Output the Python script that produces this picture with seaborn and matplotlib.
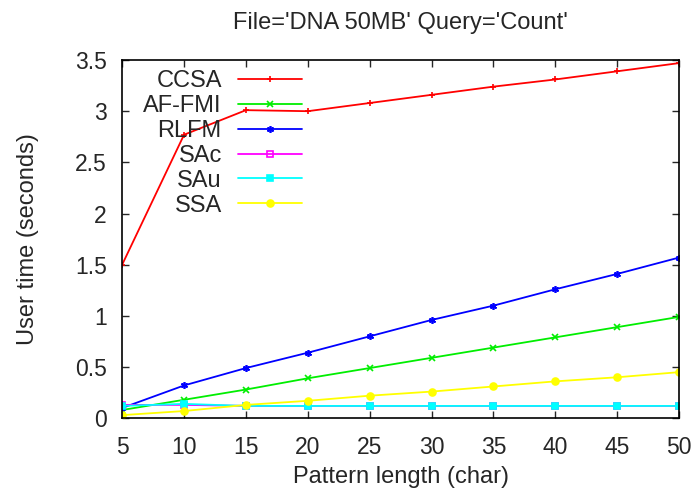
import seaborn as sns
import matplotlib
matplotlib.use("Agg")
import matplotlib.pyplot as plt

# pattern lengths and user times (seconds)
pattern_length = [5, 10, 15, 20, 25, 30, 35, 40, 45, 50]
ccsa = [1.50, 2.77, 3.01, 3.00, 3.08, 3.16, 3.24, 3.31, 3.39, 3.47]
af_fmi = [0.08, 0.18, 0.28, 0.39, 0.49, 0.59, 0.69, 0.79, 0.89, 0.99]
rlfm = [0.10, 0.32, 0.49, 0.64, 0.80, 0.96, 1.10, 1.26, 1.41, 1.57]
sac = [0.13, 0.13, 0.12, 0.12, 0.12, 0.12, 0.12, 0.12, 0.12, 0.12]
sau = [0.12, 0.14, 0.12, 0.12, 0.12, 0.12, 0.12, 0.12, 0.12, 0.12]
ssa = [0.03, 0.07, 0.13, 0.17, 0.22, 0.26, 0.31, 0.36, 0.40, 0.45]

series_names = ["CCSA", "AF-FMI", "RLFM", "SAc", "SAu", "SSA"]
series_values = [ccsa, af_fmi, rlfm, sac, sau, ssa]
colors = ["#ff0000", "#00ee00", "#0000ff", "#ff00ff", "#00ffff", "#ffff00"]
marker_styles = ["+", "x", (6, 2, 0), "s", "s", "o"]
open_marker = [False, False, False, True, False, False]

FS = 17


def main():
    sns.set_style("ticks")
    plt.rcParams["font.family"] = ["Liberation Sans", "DejaVu Sans"]

    fig = plt.figure(figsize=(6.98, 4.92), dpi=100)
    ax = fig.add_axes([0.175, 0.150, 0.798, 0.728])

    # one lineplot per series, since seaborn won't mix filled and line markers
    for name, vals, col, mk, hollow in zip(series_names, series_values, colors,
                                            marker_styles, open_marker):
        sns.lineplot(x=pattern_length, y=vals, color=col, marker=mk, label=name,
                     linewidth=1.3, markersize=5, markeredgewidth=1.2,
                     markeredgecolor=col, markerfacecolor="none" if hollow else col,
                     ax=ax)

    ax.set_xlim(5, 50)
    ax.set_ylim(0, 3.5)
    ax.set_xticks(pattern_length)
    ax.set_yticks([0, 0.5, 1, 1.5, 2, 2.5, 3, 3.5])
    ax.set_yticklabels(["0", "0.5", "1", "1.5", "2", "2.5", "3", "3.5"])
    ax.tick_params(direction="in", top=True, right=True, length=5, width=1,
                   labelsize=16.5)
    ax.tick_params(axis="x", pad=13)
    ax.tick_params(axis="y", pad=11)
    for spine in ax.spines.values():
        spine.set_visible(True)
        spine.set_linewidth(1.2)
        spine.set_color("black")

    ax.set_xlabel("Pattern length (char)", fontsize=FS, labelpad=5)
    ax.set_ylabel("User time (seconds)", fontsize=FS, labelpad=26)
    ax.set_title("File='DNA 50MB' Query='Count'", fontsize=FS, pad=22)

    leg = ax.legend(loc="upper right", bbox_to_anchor=(0.323, 0.971),
                    frameon=False, markerfirst=False, fontsize=FS, handlelength=2.7,
                    handletextpad=0.7, labelspacing=0.12, borderpad=0,
                    borderaxespad=0)
    leg._legend_box.align = "right"

    fig.savefig("out.png", dpi=100)


if __name__ == "__main__":
    main()
